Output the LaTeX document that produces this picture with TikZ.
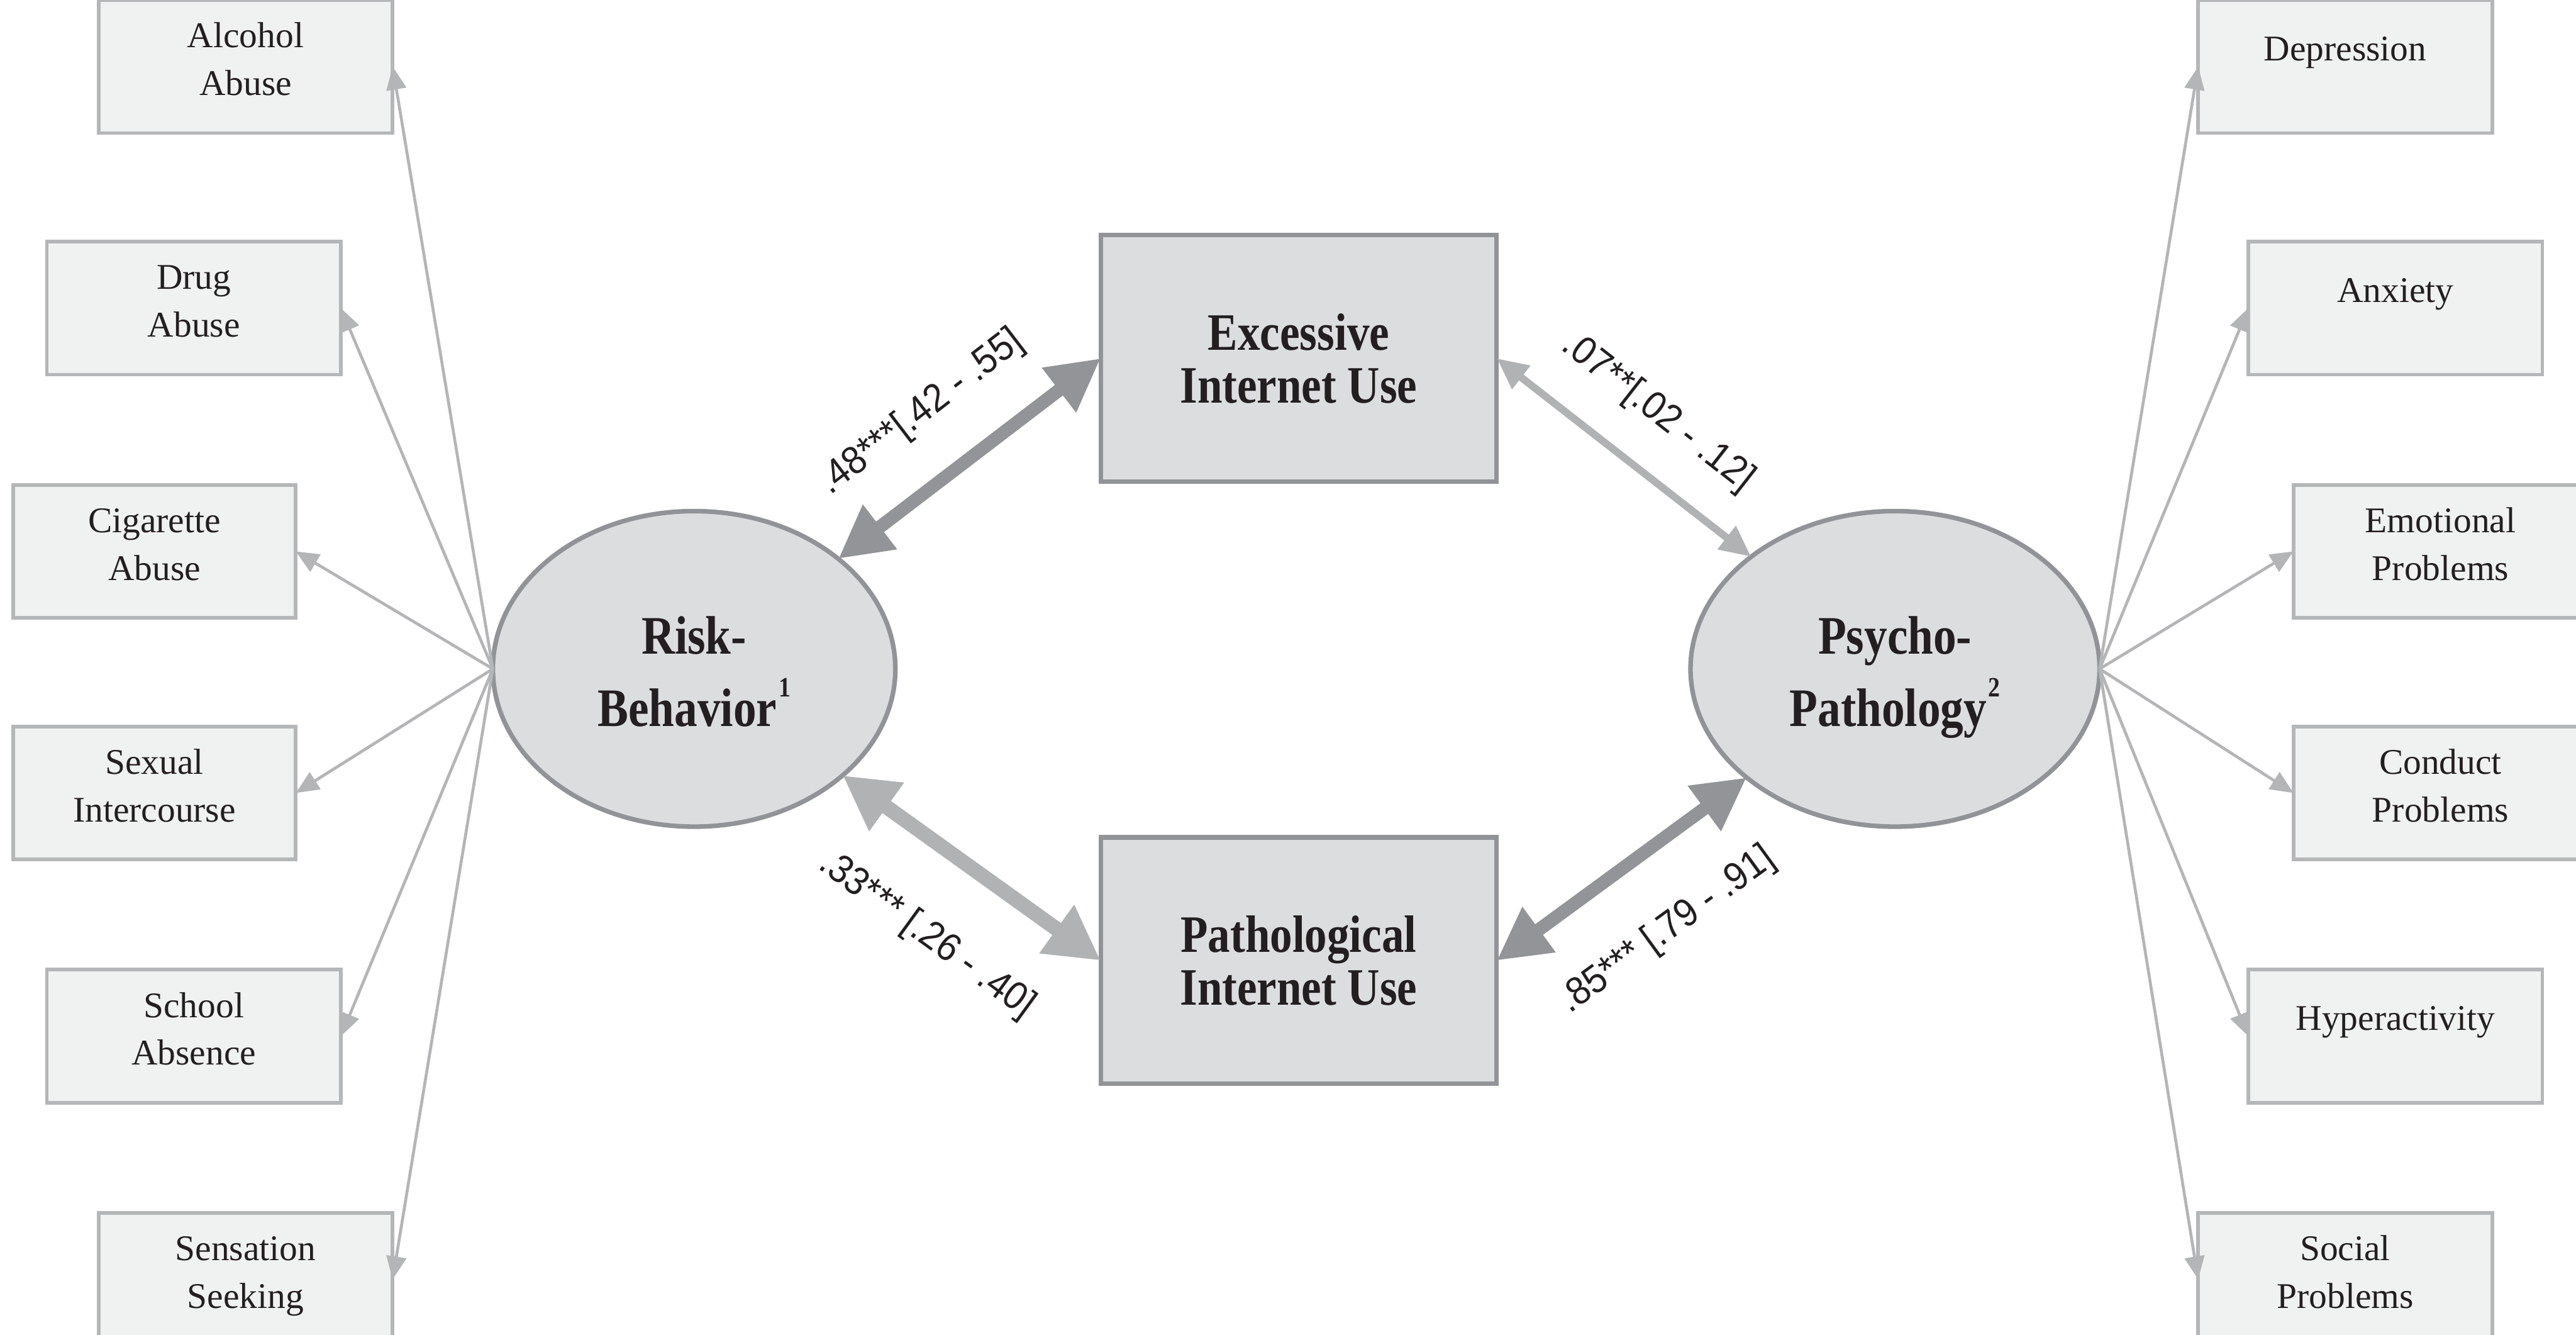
\documentclass[tikz,border=0pt]{standalone}
\usepackage{fontspec}
\setmainfont{Liberation Serif}
\newfontfamily\bigserif{Liberation Serif}[FakeStretch=0.85]
\newfontfamily\labsans{Liberation Sans}[FakeStretch=0.92]
\usetikzlibrary{arrows.meta,shapes.geometric}
\definecolor{smfill}{HTML}{F0F1F1}
\definecolor{smline}{HTML}{B5B6B7}
\definecolor{bgfill}{HTML}{DCDDDF}
\definecolor{bgline}{HTML}{929397}
\definecolor{darkarr}{HTML}{939497}
\definecolor{lightarr}{HTML}{B1B2B4}
\definecolor{thinarr}{HTML}{B4B5B6}
\definecolor{ink}{HTML}{231F20}
\newcommand\twol[2]{\raisebox{-17.5pt}[0pt][0pt]{\begin{tabular}[b]{@{}c@{}}#1\\#2\end{tabular}}}
\newcommand\onel[1]{\raisebox{3.5pt}[0pt][0pt]{#1}}
\newcommand\bigtwo[3]{\raisebox{#1}[0pt][0pt]{\begin{tabular}[b]{@{}c@{}}#2\\#3\end{tabular}}}
\newcommand\supnum[1]{\kern1pt\raisebox{18pt}{\fontsize{17}{17}\selectfont #1}}
\tikzset{
  smbox/.style={draw=smline, line width=2.2pt, fill=smfill, minimum width=179pt, minimum height=81pt,
    inner sep=0pt, outer sep=0pt, font=\fontsize{22}{29}\selectfont, text=ink},
  bigbox/.style={draw=bgline, line width=2.8pt, fill=bgfill, minimum width=241pt, minimum height=150pt,
    inner sep=0pt, outer sep=0pt, font=\bigserif\bfseries\fontsize{32}{32}\selectfont, text=ink},
  latent/.style={ellipse, draw=bgline, line width=2.8pt, fill=bgfill, minimum height=192pt,
    inner sep=0pt, outer sep=0pt, font=\bigserif\bfseries\fontsize{33}{44}\selectfont, text=ink},
  ind/.style={draw=thinarr, line width=1.8pt, -{Triangle[length=14pt,width=12pt]}},
  covdark/.style={draw=darkarr, line width=8pt,
    {Triangle[length=32pt,width=32pt]}-{Triangle[length=32pt,width=32pt]}},
  covlightthick/.style={draw=lightarr, line width=9pt,
    {Triangle[length=33pt,width=34pt]}-{Triangle[length=33pt,width=34pt]}},
  covlightthin/.style={draw=lightarr, line width=4.5pt,
    {Triangle[length=19pt,width=17pt]}-{Triangle[length=19pt,width=17pt]}},
  lab/.style={font=\labsans\fontsize{24}{24}\selectfont, text=ink, inner sep=0pt},
}
\begin{document}
\begin{tikzpicture}[x=1pt,y=-1pt]
\useasboundingbox (0,0) rectangle (1568,812);
\fill[white] (0,0) rectangle (1568,812);
\clip (0,0) rectangle (1568,812);

% left indicators
\node[smbox] (alc) at (149.5,40.5) {\twol{Alcohol}{Abuse}};
\node[smbox] (drug) at (118,187.5) {\twol{Drug}{Abuse}};
\node[smbox, minimum width=172pt] (cig) at (94,335.5) {\twol{Cigarette}{Abuse}};
\node[smbox, minimum width=172pt] (sex) at (94,482.5) {\twol{Sexual}{Intercourse}};
\node[smbox] (school) at (118,630.5) {\twol{School}{Absence}};
\node[smbox] (sens) at (149.5,778.5) {\twol{Sensation}{Seeking}};

% right indicators
\node[smbox] (dep) at (1427.5,40.5) {\onel{Depression}};
\node[smbox] (anx) at (1458,187.5) {\onel{Anxiety}};
\node[smbox] (emo) at (1485.5,335.5) {\twol{Emotional}{Problems}};
\node[smbox] (cond) at (1485.5,482.5) {\twol{Conduct}{Problems}};
\node[smbox] (hyp) at (1458,630.5) {\onel{Hyperactivity}};
\node[smbox] (soc) at (1427.5,778.5) {\twol{Social}{Problems}};

% latent variables
\node[latent, minimum width=245pt] (rb) at (422.5,407) {\bigtwo{-35pt}{Risk-}{Behavior\supnum{1}}};
\node[latent, minimum width=249pt] (pp) at (1153.5,407) {\bigtwo{-35pt}{Psycho-}{Pathology\supnum{2}}};

% observed internet use
\node[bigbox] (exc) at (790.5,218) {\bigtwo{-27pt}{Excessive}{Internet Use}};
\node[bigbox] (pat) at (790.5,584.5) {\bigtwo{-27pt}{Pathological}{Internet Use}};

% loadings
\foreach \t in {alc,drug,cig,sex,school,sens}
  \draw[ind] (rb.west) -- (\t.east);
\foreach \t in {dep,anx,emo,cond,hyp,soc}
  \draw[ind] (pp.east) -- (\t.west);

% correlations
\draw[covdark] (rb) -- (exc.west);
\draw[covlightthin] (exc.east) -- (pp);
\draw[covlightthick] (rb) -- (pat.west);
\draw[covdark] (pat.east) -- (pp);

% labels
\node[lab, rotate=37.5] (l1) at (561,251) {.48***[.42 - .55]};
\node[lab, rotate=-38] (l2) at (1009,251) {.07**[.02 - .12]};
\node[lab, rotate=-36] (l3) at (564,569) {.33*** [.26 - .40]};
\node[lab, rotate=36] (l4) at (1015,566) {.85*** [.79 - .91]};
\end{tikzpicture}
\end{document}
